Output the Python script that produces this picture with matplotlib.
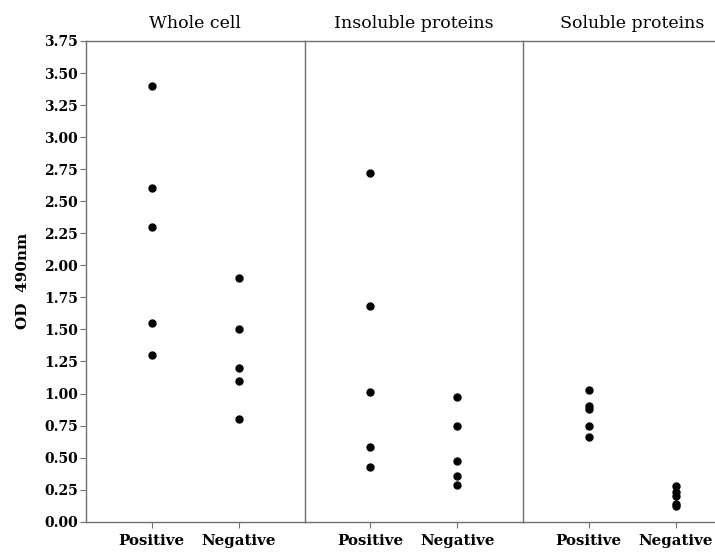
import matplotlib
matplotlib.use("Agg")
import matplotlib.pyplot as plt

plt.rcParams['font.family'] = ['DejaVu Serif']

panels = ["Whole cell", "Insoluble proteins", "Soluble proteins"]
groups = ["Positive", "Negative"]
whole_pos = [3.40, 2.60, 2.30, 1.55, 1.30]
whole_neg = [1.90, 1.50, 1.20, 1.10, 0.80]
insol_pos = [2.72, 1.68, 1.01, 0.58, 0.43]
insol_neg = [0.97, 0.75, 0.47, 0.36, 0.29]
sol_pos = [1.03, 0.90, 0.88, 0.75, 0.66]
sol_neg = [0.28, 0.23, 0.20, 0.14, 0.12]
yticks = [0.00, 0.25, 0.50, 0.75, 1.00, 1.25, 1.50, 1.75, 2.00, 2.25, 2.50, 2.75, 3.00, 3.25, 3.50, 3.75]
ylabel = "OD  490nm"

data = [(whole_pos, whole_neg), (insol_pos, insol_neg), (sol_pos, sol_neg)]

W, H = 715, 554
fig = plt.figure(figsize=(W / 100, H / 100), dpi=100)
left_px = 86
pw = 218.5
bottom = (H - 521.7) / H
height = (521.7 - 41) / H
spine_col = "#707070"

for i, (title, (pos, neg)) in enumerate(zip(panels, data)):
    ax = fig.add_axes([(left_px + i * pw) / W, bottom, pw / W, height])
    ax.plot([0] * len(pos), pos, "o", color="black", ms=5, clip_on=False)
    ax.plot([1] * len(neg), neg, "o", color="black", ms=5, clip_on=False)
    ax.set_xlim(-0.75, 1.75)
    ax.set_ylim(0, 3.75)
    ax.set_xticks([0, 1])
    ax.set_xticklabels(groups, fontsize=10.8, fontweight="bold")
    ax.set_title(title, fontsize=12.5, pad=9)
    for s in ["top", "bottom", "left"]:
        ax.spines[s].set_color(spine_col)
        ax.spines[s].set_linewidth(1.0)
    ax.spines["right"].set_visible(False)
    ax.tick_params(axis="x", length=4, color=spine_col, pad=5)
    if i == 0:
        ax.set_yticks(yticks)
        ax.set_yticklabels([f"{v:.2f}" for v in yticks], fontsize=10, fontweight="bold")
        ax.tick_params(axis="y", length=4, color=spine_col, pad=2)
        ax.set_ylabel(ylabel, fontsize=11, fontweight="bold", labelpad=10)
    else:
        ax.set_yticks([])

fig.savefig("out.png", dpi=100)
